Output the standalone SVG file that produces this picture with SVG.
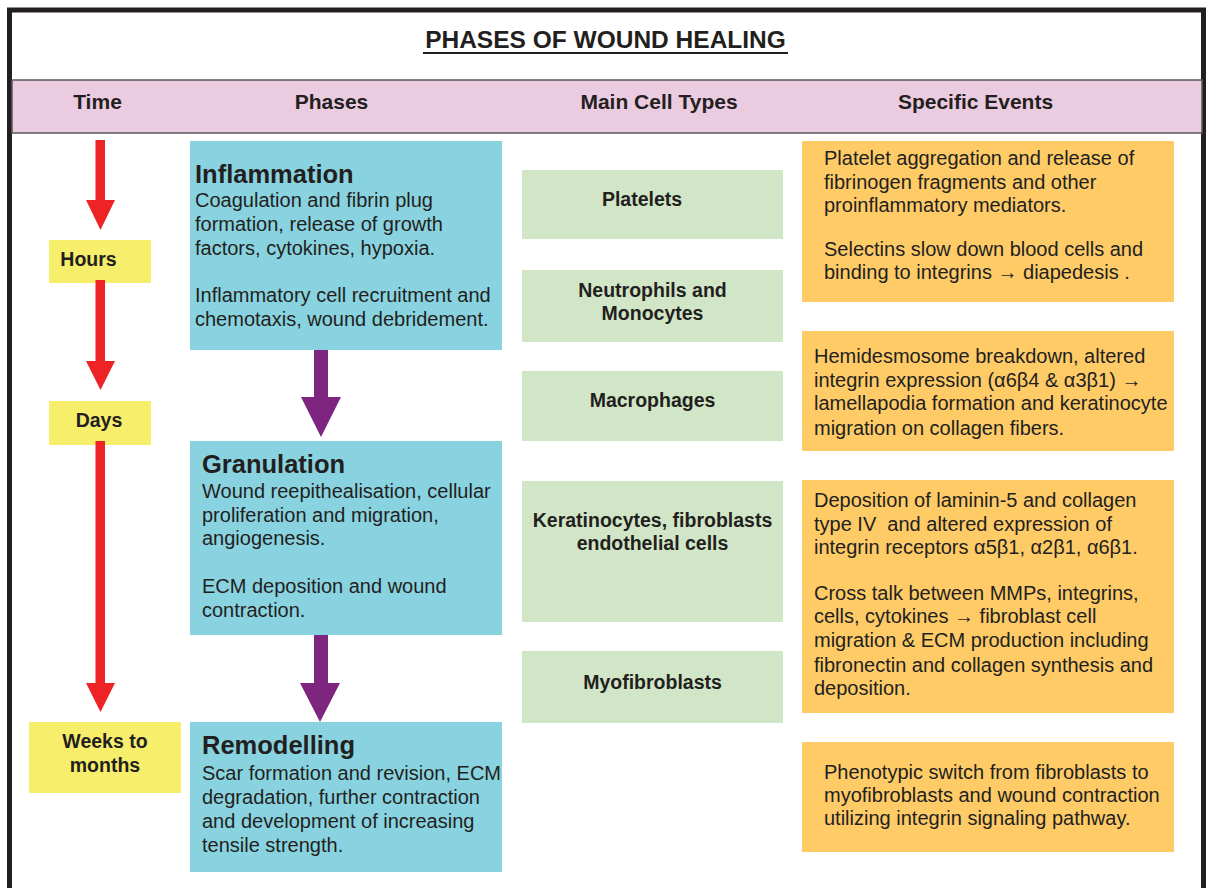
<svg xmlns="http://www.w3.org/2000/svg" width="1208" height="888" viewBox="0 0 1208 888">
  <style>
    text { font-family: "Liberation Sans", Arial, sans-serif; fill: #231F20; }
    .title { font-size: 24.5px; font-weight: bold; text-anchor: middle; }
    .hdr { font-size: 21px; font-weight: bold; text-anchor: middle; }
    .time { font-size: 19.5px; font-weight: bold; text-anchor: middle; }
    .ph { font-size: 25.5px; font-weight: bold; }
    .body { font-size: 20px; }
    .cell { font-size: 19.5px; font-weight: bold; text-anchor: middle; }
    .tbox { fill: #F7EE6B; }
    .pbox { fill: #89D3E0; }
    .cbox { fill: #D1E6C6; }
    .ebox { fill: #FECB67; }
    .red { fill: #EE2326; }
    .purple { fill: #7E267F; }
  </style>

  <!-- page frame and heading -->
  <rect x="0" y="0" width="1208" height="888" fill="#FFFFFF"/>
  <path d="M9.5,888 V10 H1203.5 V888" fill="none" stroke="#231F20" stroke-width="5"/>
  <text class="title" x="605.5" y="48">PHASES OF WOUND HEALING</text>
  <rect x="423" y="52" width="365" height="2" fill="#231F20"/>

  <!-- column header band -->
  <g id="header">
    <rect x="12" y="80" width="1190" height="53" fill="#EBCBE0" stroke="#58595B" stroke-width="1.5"/>
    <text class="hdr" x="97.5" y="109">Time</text>
    <text class="hdr" x="331.5" y="109">Phases</text>
    <text class="hdr" x="659" y="109">Main Cell Types</text>
    <text class="hdr" x="975.5" y="109">Specific Events</text>
  </g>

  <!-- time labels -->
  <g id="time-hours">
    <rect class="tbox" x="49" y="240" width="102" height="43"/>
    <text class="time" x="88.5" y="266">Hours</text>
  </g>
  <g id="time-days">
    <rect class="tbox" x="49" y="401" width="102" height="44"/>
    <text class="time" x="99" y="427">Days</text>
  </g>
  <g id="time-weeks">
    <rect class="tbox" x="29" y="722" width="152" height="71"/>
    <text class="time" x="105" y="748">Weeks to</text>
    <text class="time" x="105" y="772">months</text>
  </g>

  <!-- healing phases -->
  <g id="phase-inflammation">
    <rect class="pbox" x="190" y="141" width="312" height="209"/>
    <text class="ph" x="195" y="183">Inflammation</text>
    <text class="body" x="195" y="207">Coagulation and fibrin plug</text>
    <text class="body" x="195" y="231">formation, release of growth</text>
    <text class="body" x="195" y="255">factors, cytokines, hypoxia.</text>
    <text class="body" x="195" y="302">Inflammatory cell recruitment and</text>
    <text class="body" x="195" y="326">chemotaxis, wound debridement.</text>
  </g>
  <g id="phase-granulation">
    <rect class="pbox" x="190" y="441" width="312" height="194"/>
    <text class="ph" x="202" y="473">Granulation</text>
    <text class="body" x="202" y="498">Wound reepithealisation, cellular</text>
    <text class="body" x="202" y="522">proliferation and migration,</text>
    <text class="body" x="202" y="545">angiogenesis.</text>
    <text class="body" x="202" y="593">ECM deposition and wound</text>
    <text class="body" x="202" y="617">contraction.</text>
  </g>
  <g id="phase-remodelling">
    <rect class="pbox" x="190" y="722" width="312" height="150"/>
    <text class="ph" x="202" y="754">Remodelling</text>
    <text class="body" x="202" y="780">Scar formation and revision, ECM</text>
    <text class="body" x="202" y="804">degradation, further contraction</text>
    <text class="body" x="202" y="828">and development of increasing</text>
    <text class="body" x="202" y="852">tensile strength.</text>
  </g>

  <!-- main cell types -->
  <g id="cell-platelets">
    <rect class="cbox" x="522" y="170" width="261" height="69"/>
    <text class="cell" x="642" y="206">Platelets</text>
  </g>
  <g id="cell-neutrophils">
    <rect class="cbox" x="522" y="270" width="261" height="72"/>
    <text class="cell" x="652.5" y="297">Neutrophils and</text>
    <text class="cell" x="652.5" y="320">Monocytes</text>
  </g>
  <g id="cell-macrophages">
    <rect class="cbox" x="522" y="371" width="261" height="70"/>
    <text class="cell" x="652.5" y="407">Macrophages</text>
  </g>
  <g id="cell-keratinocytes">
    <rect class="cbox" x="522" y="481" width="261" height="141"/>
    <text class="cell" x="652.5" y="527">Keratinocytes, fibroblasts</text>
    <text class="cell" x="652.5" y="550">endothelial cells</text>
  </g>
  <g id="cell-myofibroblasts">
    <rect class="cbox" x="522" y="651" width="261" height="72"/>
    <text class="cell" x="652.5" y="689">Myofibroblasts</text>
  </g>

  <!-- specific events -->
  <g id="event-platelet">
    <rect class="ebox" x="802" y="141" width="372" height="161"/>
    <text class="body" x="824" y="165">Platelet aggregation and release of</text>
    <text class="body" x="824" y="189">fibrinogen fragments and other</text>
    <text class="body" x="824" y="212">proinflammatory mediators.</text>
    <text class="body" x="824" y="256">Selectins slow down blood cells and</text>
    <text class="body" x="824" y="279">binding to integrins → diapedesis .</text>
  </g>
  <g id="event-hemidesmosome">
    <rect class="ebox" x="802" y="331" width="372" height="120"/>
    <text class="body" x="814" y="363">Hemidesmosome breakdown, altered</text>
    <text class="body" x="814" y="387">integrin expression (α6β4 &amp; α3β1) →</text>
    <text class="body" x="814" y="410">lamellapodia formation and keratinocyte</text>
    <text class="body" x="814" y="435">migration on collagen fibers.</text>
  </g>
  <g id="event-deposition">
    <rect class="ebox" x="802" y="480" width="372" height="233"/>
    <text class="body" x="814" y="507">Deposition of laminin-5 and collagen</text>
    <text class="body" x="814" y="531" xml:space="preserve">type IV  and altered expression of</text>
    <text class="body" x="814" y="554">integrin receptors α5β1, α2β1, α6β1.</text>
    <text class="body" x="814" y="600">Cross talk between MMPs, integrins,</text>
    <text class="body" x="814" y="623">cells, cytokines → fibroblast cell</text>
    <text class="body" x="814" y="647">migration &amp; ECM production including</text>
    <text class="body" x="814" y="672">fibronectin and collagen synthesis and</text>
    <text class="body" x="814" y="695">deposition.</text>
  </g>
  <g id="event-phenotypic">
    <rect class="ebox" x="802" y="742" width="372" height="110"/>
    <text class="body" x="824" y="779">Phenotypic switch from fibroblasts to</text>
    <text class="body" x="824" y="802">myofibroblasts and wound contraction</text>
    <text class="body" x="824" y="825">utilizing integrin signaling pathway.</text>
  </g>

  <!-- block arrows -->
  <g id="connectors">
    <path class="red" d="M95.5,140 H105 V200 H115 L100.5,230 L86,200 H95.5 Z"/>
    <path class="red" d="M95.5,280 H105 V361 H115 L100.5,390 L86,361 H95.5 Z"/>
    <path class="red" d="M95.5,441 H105 V683 H115 L100.5,712 L86,683 H95.5 Z"/>
    <path class="purple" d="M314,350 H328 V397 H341 L321,437 L301,397 H314 Z"/>
    <path class="purple" d="M314,635 H328 V683 H340 L320,722 L300,683 H314 Z"/>
  </g>
</svg>
